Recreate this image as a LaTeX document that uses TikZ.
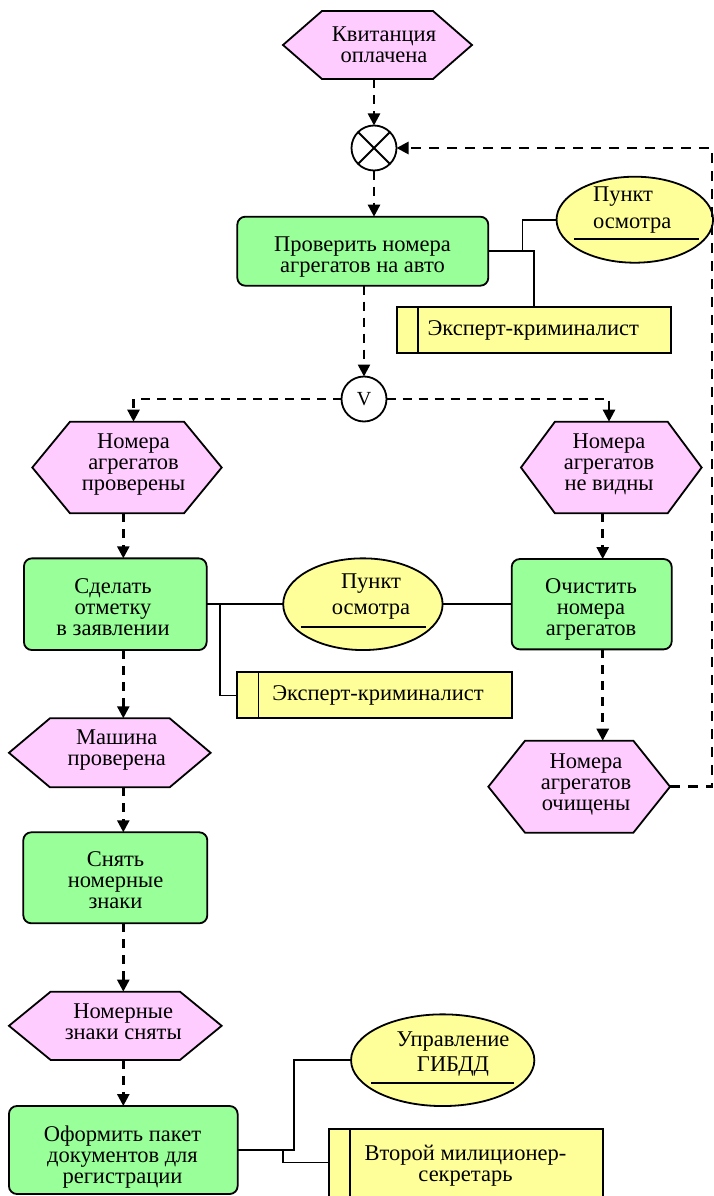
\documentclass[tikz,border=0pt]{standalone}
\usepackage{fontspec}
\setmainfont{Liberation Serif}
\usetikzlibrary{arrows.meta,shapes.geometric,calc}
\definecolor{evpink}{RGB}{255,204,255}
\definecolor{fngreen}{RGB}{153,255,153}
\definecolor{orgyellow}{RGB}{255,255,153}
% #1 name, #2 cx, #3 cy, #4 w, #5 h, #6 slant, #7 tx, #8 ty, #9 text
\newcommand{\evhex}[9]{%
  \node[shapebox, minimum width=#4pt, minimum height=#5pt] (#1) at (#2,#3) {};
  \path[hexline] (#1.west) -- ([xshift=#6pt]#1.north west) -- ([xshift=-#6pt]#1.north east) -- (#1.east) -- ([xshift=-#6pt]#1.south east) -- ([xshift=#6pt]#1.south west) -- cycle;
  \node[txt] (#1-t) at (#7,#8) {#9};
}
\begin{document}
\begin{tikzpicture}[x=1pt,y=-1pt,
 font=\fontsize{22.5}{21}\selectfont,
 shapebox/.style={draw=none,inner sep=0pt,outer sep=0pt},
 hexline/.style={draw=black,line width=1.8pt,fill=evpink,line join=miter},
 txt/.style={align=center,inner sep=0pt,outer sep=0pt},
 fnbox/.style={draw=black,line width=1.8pt,fill=fngreen,rounded corners=8pt,inner sep=0pt,outer sep=0pt},
 orgell/.style={ellipse,draw=black,line width=1.8pt,fill=orgyellow,inner sep=0pt,outer sep=0pt},
 rolebox/.style={draw=black,line width=1.8pt,fill=orgyellow,inner sep=0pt,outer sep=0pt},
 opnode/.style={circle,draw=black,line width=1.8pt,fill=white,inner sep=0pt,outer sep=0pt,minimum size=45pt},
 flow/.style={line width=2.5pt,dash pattern=on 9pt off 7pt,-{Triangle[length=12pt,width=12pt]}},
 loopflow/.style={line width=2.7pt,dash pattern=on 10pt off 8pt,-{Triangle[length=12pt,width=12pt]}},
 link/.style={line width=1.6pt},
 ultxt/.style={align=center,inner sep=0pt,outer sep=0pt,font=\fontsize{22.5}{26.5}\selectfont}
]
\useasboundingbox (0,0) rectangle (714,1196);
\clip (0,0) rectangle (714,1196);
\fill[white] (0,0) rectangle (714,1196);

% ---- shapes ----
\evhex{h1}{377.5}{45}{189}{68}{39}{384}{45.2}{Квитанция\\оплачена}
\node[opnode] (x1) at (374,148) {};
\draw[line width=1.8pt] (x1.north west) -- (x1.south east) (x1.north east) -- (x1.south west);

\node[fnbox,minimum width=251pt,minimum height=69pt] (f1) at (362.8,251.2) {};
\node[txt] (f1-t) at (362.5,257.5) {Проверить номера\\агрегатов на авто};

\node[orgell,minimum width=156.5pt,minimum height=86pt] (e1) at (634.8,219.7) {};
\draw[link] ($(e1.center)+(-61,19)$) -- ($(e1.center)+(64,19)$);
\node[ultxt,align=left,anchor=west] (e1-t) at (593,210) {Пункт\\осмотра};

\node[rolebox,minimum width=274.3pt,minimum height=46.6pt] (r1) at (533.8,330) {};
\draw[link] ([xshift=21.6pt]r1.north west) -- ([xshift=21.6pt]r1.south west);
\node[txt] (r1-t) at (533.3,330) {Эксперт-криминалист};

\node[opnode,font=\fontsize{20}{20}\selectfont] (v1) at (364,399) {V};

\evhex{h2}{127}{467.5}{189.4}{91.6}{37.7}{133.5}{464.8}{Номера\\агрегатов\\проверены}
\evhex{h3}{611.3}{467.5}{180.7}{91.6}{34}{609}{464.8}{Номера\\агрегатов\\не видны}

\node[fnbox,minimum width=182.7pt,minimum height=91.7pt] (f2) at (115.3,604.2) {};
\node[txt] (f2-t) at (113,607) {Сделать\\отметку\\в заявлении};

\node[orgell,minimum width=159.4pt,minimum height=91.7pt] (e2) at (362.9,604.2) {};
\draw[link] ($(e2.center)+(-62.4,22.5)$) -- ($(e2.center)+(62.9,22.5)$);
\node[ultxt] (e2-t) at (371,596.6) {Пункт\\осмотра};

\node[fnbox,minimum width=160pt,minimum height=90.3pt] (f3) at (591.7,604.2) {};
\node[txt] (f3-t) at (591,609) {Очистить\\номера\\агрегатов};

\node[rolebox,minimum width=274.4pt,minimum height=46pt] (r2) at (374.5,695.3) {};
\draw[link] ([xshift=21pt]r2.north west) -- ([xshift=21pt]r2.south west);
\node[txt] (r2-t) at (378,695.3) {Эксперт-криминалист};

\evhex{h4}{579.2}{786.7}{181.7}{92}{36.7}{586}{784}{Номера\\агрегатов\\очищены}
\evhex{h5}{109.8}{752.8}{201.7}{69}{41}{116.7}{750.5}{Машина\\проверена}

\node[fnbox,minimum width=184pt,minimum height=91pt] (f4) at (115.3,877.8) {};
\node[txt] (f4-t) at (115.5,880.5) {Снять\\номерные\\знаки};

\evhex{h6}{115.3}{1025.8}{212.7}{68.3}{41.7}{123.2}{1021.3}{Номерные\\знаки сняты}

\node[fnbox,minimum width=228.7pt,minimum height=88pt] (f5) at (123.3,1150) {};
\node[txt] (f5-t) at (122.5,1157.3) {Оформить пакет\\документов для\\регистрации};

\node[orgell,minimum width=183.3pt,minimum height=91.7pt] (e3) at (442.7,1060.2) {};
\draw[link] ($(e3.center)+(-71.7,23)$) -- ($(e3.center)+(71.6,23)$);
\node[ultxt,font=\fontsize{22.5}{25}\selectfont] (e3-t) at (453,1053.7) {Управление\\ГИБДД};

\node[rolebox,minimum width=273.7pt,minimum height=82pt] (r3) at (465.85,1170) {};
\draw[link] ([xshift=21pt]r3.north west) -- ([xshift=21pt]r3.south west);
\node[txt] (r3-t) at (465.5,1165.8) {Второй милиционер-\\секретарь};

% ---- helper coordinates ----
\coordinate (colL) at (123.3,0);
\coordinate (colR) at (602.7,0);
\coordinate (loopx) at (712,0);
\coordinate (b1) at (522.3,0);
\coordinate (b2) at (220,0);
\coordinate (b3) at (294,0);
\coordinate (b4) at (282.7,1162.3);

% ---- control flow ----
\draw[flow] (h1.south -| x1) -- (x1.north);
\draw[flow] (x1.south) -- (x1.south |- f1.north);
\draw[flow] (f1.south -| v1) -- (v1.north);
\draw[flow] (v1.west) -| (h2-t |- h2.north);
\draw[flow] (v1.east) -| (h3-t |- h3.north);
\draw[flow] (h2.south -| colL) -- (f2.north -| colL);
\draw[flow] (f2.south -| colL) -- (h5.north -| colL);
\draw[flow] (h5.south -| colL) -- (f4.north -| colL);
\draw[flow] (f4.south -| colL) -- (h6.north -| colL);
\draw[flow] (h6.south -| colL) -- (f5.north -| colL);
\draw[flow] (h3.south -| colR) -- (f3.north -| colR);
\draw[flow] (f3.south -| colR) -- (h4.north -| colR);
\draw[loopflow] (h4.east) -| (loopx |- x1.east) -- (x1.east);

% ---- organisational links ----
\draw[link] (f1.east) -| (r1.north);
\draw[link] (f1.east -| b1) |- (e1.west);
\draw[link] (f2.east) -- (e2.west);
\draw[link] (f2.east -| b2) |- (r2.west);
\draw[link] (e2.east) -- (f3.west);
\draw[link] (f5.east) -| (b3 |- e3.west) -- (e3.west);
\draw[link] (f5.east -| b4) -- (b4) -- (b4 -| r3.west);
\end{tikzpicture}
\end{document}
